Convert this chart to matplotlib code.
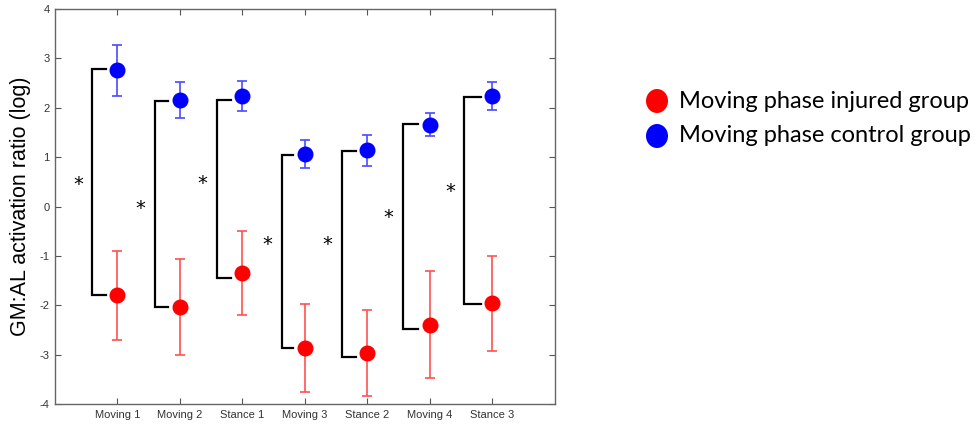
import matplotlib
matplotlib.use("Agg")
import matplotlib.pyplot as plt
from matplotlib.patches import Ellipse

plt.rcParams["axes.unicode_minus"] = False

# Conditions along the x axis
conditions = ["Moving 1", "Moving 2", "Stance 1", "Moving 3", "Stance 2", "Moving 4", "Stance 3"]

# Injured group: mean and error (log GM:AL ratio)
injured_mean = [-1.80, -2.03, -1.35, -2.86, -2.97, -2.39, -1.96]
injured_err = [0.90, 0.97, 0.85, 0.89, 0.87, 1.08, 0.96]

# Control group: mean and error
control_mean = [2.76, 2.16, 2.24, 1.06, 1.14, 1.66, 2.24]
control_err = [0.52, 0.37, 0.31, 0.28, 0.31, 0.24, 0.29]

# Significance brackets: top and bottom levels of each bracket
bracket_top = [2.78, 2.13, 2.16, 1.04, 1.13, 1.68, 2.21]
bracket_bottom = [-1.79, -2.03, -1.44, -2.87, -3.04, -2.49, -1.97]
bracket_offset = [0.40, 0.40, 0.41, 0.37, 0.41, 0.43, 0.45]
star_y = [0.44, -0.05, 0.47, -0.77, -0.77, -0.22, 0.31]

legend_labels = ["Moving phase injured group", "Moving phase control group"]

fig = plt.figure(figsize=(9.79, 4.26), dpi=100)
ax = fig.add_axes([55 / 979, 22 / 426, 500 / 979, 395 / 426])

xs = list(range(1, len(conditions) + 1))

for x, m, e in zip(xs, injured_mean, injured_err):
    ax.errorbar(x, m, yerr=e, fmt="none", ecolor="#ff5050", elinewidth=1.2,
                capsize=3.5, capthick=1.2, zorder=2)
for x, m, e in zip(xs, control_mean, control_err):
    ax.errorbar(x, m, yerr=e, fmt="none", ecolor="#4a4aff", elinewidth=1.2,
                capsize=3.5, capthick=1.2, zorder=2)
ax.plot(xs, injured_mean, "o", color="#ff0000", markersize=10.5, linestyle="none", zorder=3)
ax.plot(xs, control_mean, "o", color="#0000ff", markersize=10.5, linestyle="none", zorder=3)

for x, top, bot, off, sy in zip(xs, bracket_top, bracket_bottom, bracket_offset, star_y):
    xv = x - off
    ax.plot([x - 0.19, xv, xv, x - 0.19], [top, top, bot, bot],
            color="black", linewidth=1.6, solid_joinstyle="miter", zorder=1)
    ax.text(xv - 0.23, sy, "*", ha="center", va="center", fontsize=14,
            color="black", family="DejaVu Sans")

ax.set_xlim(0, 8)
ax.set_ylim(-4, 4)
ax.set_xticks(xs)
ax.set_xticklabels(conditions)
ax.set_yticks(range(-4, 5))
ax.tick_params(direction="in", top=True, right=True, labelsize=8,
               labelcolor="#333333", color="#555555", length=4, width=0.8, pad=4)
for lbl in ax.get_xticklabels() + ax.get_yticklabels():
    lbl.set_family("Liberation Sans")
for sp in ax.spines.values():
    sp.set_color("#666666")
    sp.set_linewidth(1.0)

ax.set_ylabel("GM:AL activation ratio (log)", fontsize=15.5, family="Liberation Sans",
              labelpad=6)

# Legend drawn in figure coordinates
ys = [101, 136]
cols = ["#ff0000", "#0000ff"]
for yp, c, lab in zip(ys, cols, legend_labels):
    fy = 1 - yp / 426
    fig.patches.append(Ellipse((657 / 979, fy), 22 / 979, 24 / 426, transform=fig.transFigure,
                               facecolor=c, edgecolor="none"))
    fig.text(679 / 979, fy, lab, fontsize=17, family="Lato", va="center", ha="left")

fig.savefig("out.png", dpi=100)
